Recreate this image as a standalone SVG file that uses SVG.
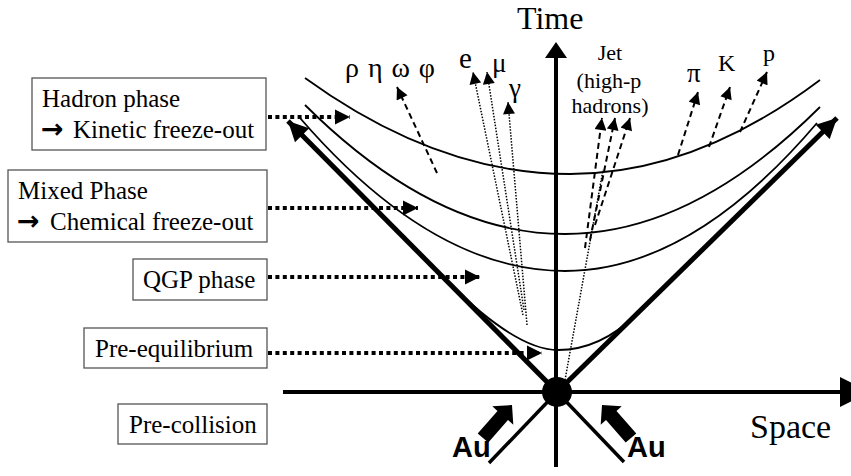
<svg xmlns="http://www.w3.org/2000/svg" width="851" height="476" viewBox="0 0 851 476">
<style>
.t{font-family:"Liberation Serif","Times New Roman",serif;fill:#000}
.ar{font-family:"DejaVu Sans",sans-serif;font-weight:bold}
.box{fill:#fff;stroke:#555;stroke-width:1.3}
.conn{stroke:#000;stroke-width:4;stroke-dasharray:4 3.4;fill:none}
.curve{fill:none;stroke:#000;stroke-width:1.8}
.dash{fill:none;stroke:#000;stroke-width:2;stroke-dasharray:6 4}
.dot{fill:none;stroke:#000;stroke-width:1.5;stroke-dasharray:1.5 1.5}
.axis{stroke:#000;stroke-width:4;fill:none}
.cone{stroke:#000;stroke-width:5;fill:none}
.au{font-family:"Liberation Sans",Arial,sans-serif;font-weight:bold;font-size:29px}
</style>
<defs>
<marker id="big" viewBox="0 0 10 10" refX="10" refY="5" markerWidth="15" markerHeight="16" markerUnits="userSpaceOnUse" orient="auto"><path d="M0,0L10,5L0,10z" fill="#000"/></marker>
<marker id="sm" viewBox="0 0 10 10" refX="10" refY="5" markerWidth="13" markerHeight="12" markerUnits="userSpaceOnUse" orient="auto"><path d="M0,0L10,5L0,10z" fill="#000"/></marker>
<marker id="cone" viewBox="0 0 10 10" refX="10" refY="5" markerWidth="22" markerHeight="20" markerUnits="userSpaceOnUse" orient="auto"><path d="M0,0L10,5L0,10z" fill="#000"/></marker>
</defs>

<g id="spacetime">
<path class="curve" d="M305,78 Q437.5,174 570,174 Q695,174 820,80"/>
<path class="curve" d="M305,105 Q435,234 565,234 Q692.5,234 820,107"/>
<path class="curve" d="M300,118 Q432.5,271 565,271 Q691,271 817,123"/>
<path class="curve" d="M447,281 Q516,350 558,350 Q600,350 637,314"/>
<line class="axis" x1="283" y1="392" x2="842" y2="392"/>
<polygon points="840,377 870,392 840,407"/>
<line class="axis" x1="556" y1="467" x2="556" y2="56"/>
<polygon points="545,58 556,42 567,58"/>
<line class="cone" x1="557" y1="392" x2="288" y2="121" marker-end="url(#cone)"/>
<line class="cone" x1="557" y1="392" x2="837" y2="118" marker-end="url(#cone)"/>
<line stroke="#000" stroke-width="3.5" x1="557" y1="392" x2="489" y2="463"/>
<line stroke="#000" stroke-width="3.5" x1="557" y1="392" x2="624" y2="462"/>
<circle cx="557" cy="392" r="15"/>
<text class="t" x="517" y="29" font-size="32">Time</text>
<text class="t" x="750" y="438" font-size="34">Space</text>
</g>

<g id="au-left">
<polygon points="477.7,433.4 497.5,410.9 492.3,406.3 512,405 513.3,424.7 508,420.1 488.3,442.6"/>
<text class="au" x="452" y="457">Au</text>
</g>
<g id="au-right">
<polygon points="636.3,433.4 616.5,410.9 621.7,406.3 602,405 600.7,424.7 606,420.1 625.7,442.6"/>
<text class="au" x="627" y="457">Au</text>
</g>

<g id="hadron-phase">
<rect class="box" x="32" y="78" width="234" height="72"/>
<text class="t" x="42" y="107" font-size="25">Hadron phase</text>
<text class="t" x="41" y="138" font-size="25"><tspan class="ar" font-size="27">→</tspan><tspan x="73">Kinetic freeze-out</tspan></text>
</g>
<g id="mixed-phase">
<rect class="box" x="8" y="170" width="259" height="72"/>
<text class="t" x="18" y="199" font-size="25">Mixed Phase</text>
<text class="t" x="17" y="230" font-size="25"><tspan class="ar" font-size="27">→</tspan><tspan x="50">Chemical freeze-out</tspan></text>
</g>
<g id="qgp-phase">
<rect class="box" x="133" y="259" width="134" height="41"/>
<text class="t" x="143" y="288" font-size="25">QGP phase</text>
</g>
<g id="pre-equilibrium">
<rect class="box" x="84" y="328" width="183" height="40"/>
<text class="t" x="95" y="357" font-size="25">Pre-equilibrium</text>
</g>
<g id="pre-collision">
<rect class="box" x="118" y="404" width="149" height="40"/>
<text class="t" x="129" y="433" font-size="25">Pre-collision</text>
</g>

<g id="particles">
<text class="t" x="345" y="77" font-size="28" textLength="90" lengthAdjust="spacing">ρ η ω φ</text>
<text class="t" x="459" y="68" font-size="29">e</text>
<text class="t" x="492" y="72" font-size="27">μ</text>
<text class="t" x="509" y="97" font-size="27">γ</text>
<text class="t" x="610" y="60" font-size="22" text-anchor="middle">Jet</text>
<text class="t" x="609" y="88" font-size="22" text-anchor="middle">(high-p</text>
<text class="t" x="610" y="113" font-size="22" text-anchor="middle">hadrons)</text>
<text class="t" x="687" y="82" font-size="27">π</text>
<text class="t" x="718" y="71" font-size="24">K</text>
<text class="t" x="763" y="61" font-size="24">p</text>
</g>

<g id="connectors">
<line class="conn" x1="268" y1="117" x2="350" y2="117" marker-end="url(#big)"/>
<line class="conn" x1="268" y1="208" x2="418" y2="208" marker-end="url(#big)"/>
<line class="conn" x1="268" y1="277" x2="480" y2="277" marker-end="url(#big)"/>
<line class="conn" x1="268" y1="353" x2="542" y2="353" marker-end="url(#big)"/>
<line class="dash" x1="437" y1="173" x2="397" y2="87" marker-end="url(#sm)"/>
<line class="dot" x1="523" y1="315" x2="473" y2="72" marker-end="url(#sm)"/>
<line class="dot" x1="524" y1="310" x2="487" y2="72" marker-end="url(#sm)"/>
<line class="dot" x1="527" y1="325" x2="508" y2="102" marker-end="url(#sm)"/>
<line class="dot" x1="565" y1="380" x2="603" y2="170"/>
<line class="dash" x1="585" y1="248" x2="602" y2="118" marker-end="url(#sm)"/>
<line class="dash" x1="590" y1="240" x2="615" y2="118" marker-end="url(#sm)"/>
<line class="dash" x1="595" y1="225" x2="630" y2="118" marker-end="url(#sm)"/>
<line class="dash" x1="678" y1="155" x2="698" y2="92" marker-end="url(#sm)"/>
<line class="dash" x1="709" y1="147" x2="730" y2="87" marker-end="url(#sm)"/>
<line class="dash" x1="740" y1="132" x2="767" y2="72" marker-end="url(#sm)"/>
</g>
</svg>
